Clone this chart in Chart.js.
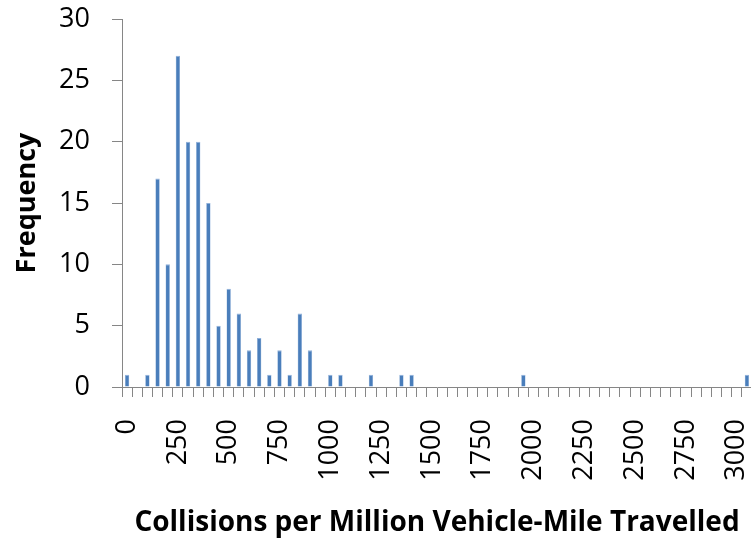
<!DOCTYPE html>
<html>
<head>
<meta charset="utf-8">
<script src="https://cdn.jsdelivr.net/npm/chart.js@4"></script>
<style>
  html, body { margin: 0; padding: 0; background: #fff; overflow: hidden; }
  #wrap { width: 751px; height: 541px; overflow: hidden; }
</style>
</head>
<body>
<div id="wrap"><canvas id="hist" width="752" height="541"></canvas></div>
<script>
// bins of 50, last bin is the overflow bin
const bins = ['0','50','100','150','200','250','300','350','400','450',
  '500','550','600','650','700','750','800','850','900','950',
  '1000','1050','1100','1150','1200','1250','1300','1350','1400','1450',
  '1500','1550','1600','1650','1700','1750','1800','1850','1900','1950',
  '2000','2050','2100','2150','2200','2250','2300','2350','2400','2450',
  '2500','2550','2600','2650','2700','2750','2800','2850','2900','2950',
  '3000','More'];
const frequency = [1,0,1,17,10,27,20,20,15,5,
  8,6,3,4,1,3,1,6,3,0,
  1,1,0,0,1,0,0,1,1,0,
  0,0,0,0,0,0,0,0,0,1,
  0,0,0,0,0,0,0,0,0,0,
  0,0,0,0,0,0,0,0,0,0,
  0,1];
const xTickLabels = ['0','250','500','750','1000','1250','1500','1750','2000','2250','2500','2750','3000'];
const yMax = 30;
const yStep = 5;

const axisGray = '#868686';
const font = '"Open Sans", Lato, sans-serif';

new Chart(document.getElementById('hist').getContext('2d'), {
  type: 'bar',
  data: {
    labels: bins,
    datasets: [{
      label: 'Frequency',
      data: frequency,
      backgroundColor: '#4A7EBB',
      borderColor: '#8FB0DA',
      borderWidth: { top: 1, left: 0.5, right: 0.5, bottom: 0 },
      barPercentage: 0.43,
      categoryPercentage: 1
    }]
  },
  options: {
    responsive: false,
    animation: false,
    devicePixelRatio: 1,
    layout: { padding: { top: 19, right: 0, left: 0, bottom: 0 } },
    plugins: { legend: { display: false }, tooltip: { enabled: false } },
    scales: {
      x: {
        afterFit: s => { s.height = 154; s.paddingLeft = 0; s.paddingRight = 0; },
        border: { color: axisGray, width: 1 },
        grid: { drawOnChartArea: false, drawTicks: true, tickLength: 10, color: axisGray, offset: true },
        ticks: {
          autoSkip: false,
          maxRotation: 90,
          minRotation: 90,
          padding: 22,
          color: '#000',
          font: { family: font, size: 27 },
          callback: function (v, i) {
            const lab = this.getLabelForValue(v);
            return xTickLabels.includes(lab) ? lab : '';
          }
        },
        title: {
          display: true,
          text: 'Collisions per Million Vehicle-Mile Travelled',
          color: '#000',
          font: { family: font, size: 28, weight: 'bold' },
          padding: { top: 0, bottom: 1 }
        }
      },
      y: {
        min: 0,
        max: yMax,
        afterFit: s => { s.width = 122; s.paddingTop = 0; s.paddingBottom = 0; },
        border: { color: axisGray, width: 1 },
        grid: { drawOnChartArea: false, drawTicks: true, tickLength: 10, color: axisGray },
        ticks: {
          stepSize: yStep,
          padding: 22,
          color: '#000',
          font: { family: font, size: 27 }
        },
        title: {
          display: true,
          text: 'Frequency',
          color: '#000',
          font: { family: font, size: 27, weight: 'bold' },
          padding: { top: 11, bottom: 0 }
        }
      }
    }
  }
});
</script>
</body>
</html>
